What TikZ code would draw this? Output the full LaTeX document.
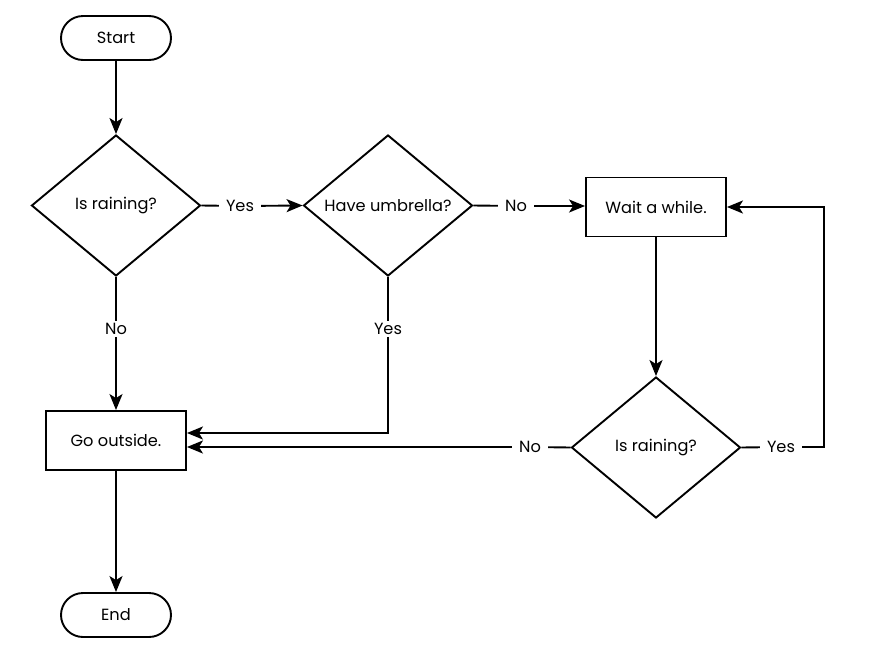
\documentclass[tikz,border=0pt]{standalone}
\usepackage{fontspec}
\setmainfont{Poppins}
\usetikzlibrary{shapes.geometric,arrows.meta}
\begin{document}
\begin{tikzpicture}[x=1pt,y=-1pt,
  every node/.style={font=\fontsize{16.2}{19}\selectfont},
  ln/.style={line width=1.9pt},
  arr/.style={ln,-{Stealth[length=16pt,width=13pt,inset=4pt]}},
  term/.style={draw,line width=1.9pt,rectangle,rounded corners=22pt,minimum width=110pt,minimum height=44pt,inner sep=0pt},
  proc/.style={draw,line width=1.9pt,rectangle,minimum width=140pt,minimum height=59pt,inner sep=0pt},
  dec/.style={draw,line width=1.9pt,diamond,inner sep=0pt,minimum width=169pt,minimum height=141pt},
  lbl/.style={inner xsep=7pt,inner ysep=2pt}]
\useasboundingbox (0,0) rectangle (879,646);
\node[term] (start) at (116,38) {Start};
\node[dec] (d1) at (116,205.5) {Is raining?};
\node[dec] (d2) at (388,205.5) {Have umbrella?};
\node[proc] (wait) at (656,207) {Wait a while.};
\node[dec] (d3) at (656,447.5) {Is raining?};
\node[proc] (go) at (116,440.5) {Go outside.};
\node[term] (end) at (116,615) {End};
\node[lbl] (y1) at (240,206) {Yes};
\node[lbl] (n2) at (516,206) {No};
\node[lbl] (n1) at (116,329) {No};
\node[lbl] (y2) at (388,329) {Yes};
\node[lbl] (y3) at (781,447) {Yes};
\node[lbl] (n3) at (530,447) {No};
\coordinate (c1) at (824,447);
\coordinate (c2) at (824,207);
\coordinate (c3) at (388,433);
\draw[arr] (start) -- (d1);
\draw[ln] (d1.east) -- (y1);
\draw[arr] (y1) -- (d2.west);
\draw[ln] (d2.east) -- (n2);
\draw[arr] (n2) -- (wait.west |- n2);
\draw[arr] (wait) -- (d3);
\draw[ln] (d3.east) -- (y3);
\draw[arr] (y3) -- (c1) -- (c2) -- (wait.east |- c2);
\draw[ln] (d3.west) -- (n3);
\draw[arr] (n3.west) -- (go.east |- n3);
\draw[ln] (d2.south) -- (y2);
\draw[arr] (y2) -- (c3) -- (go.east |- c3);
\draw[ln] (d1.south) -- (n1);
\draw[arr] (n1) -- (go);
\draw[arr] (go) -- (end);
\end{tikzpicture}
\end{document}
